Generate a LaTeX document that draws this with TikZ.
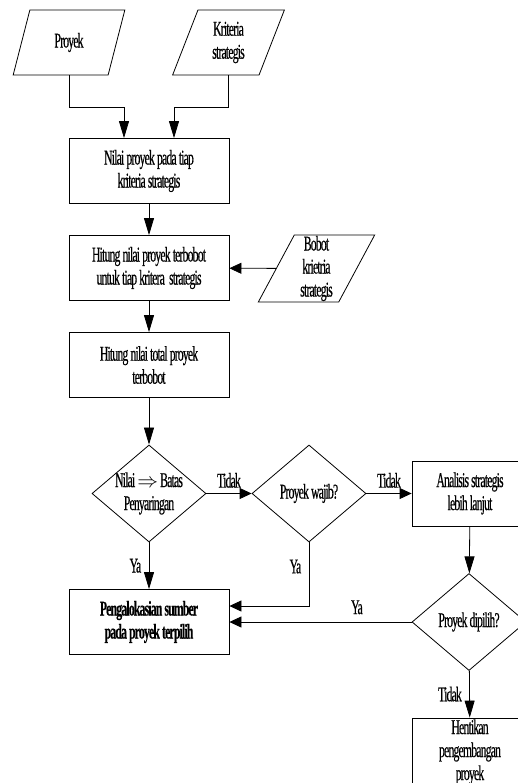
\documentclass[tikz,border=0pt]{standalone}
\usepackage{fontspec}
\setmainfont{Liberation Serif}[FakeStretch=0.56, LetterSpace=-4, FakeBold=0.4]
\usetikzlibrary{arrows.meta,shapes.geometric}

\tikzset{
  teks/.style={font=\fontsize{21}{23}\selectfont},
  proses/.style={draw, teks, align=center, inner sep=0pt, minimum width=160, minimum height=65},
  data/.style={draw, teks, align=center, inner sep=0pt, trapezium, trapezium stretches=true,
    trapezium left angle=72, trapezium right angle=108, minimum width=112, minimum height=65},
  keputusan/.style={draw, teks, align=center, diamond, inner sep=-7pt, minimum width=114, minimum height=97},
  panahv/.style={-{Triangle[length=17pt,width=10pt]}},
  panahh/.style={-{Triangle[length=12pt,width=11pt]}}
}

\begin{document}
\begin{tikzpicture}[x=1pt, y=-1pt, line width=0.8pt]
	\useasboundingbox (0,0) rectangle (518,783);
	% masukan
	\node[data] (proyek) at (69,42.5) {Proyek};
	\node[data] (kriteria) at (228.5,42.5) {Kriteria\\strategis};
	\node[data, trapezium left angle=68, trapezium right angle=112, minimum width=117, minimum height=67] (bobot) at (316.5,268.5) {Bobot\\krietria\\strategis};
	% proses utama
	\node[proses] (nilai) at (149,171) {Nilai proyek pada tiap\\kriteria strategis};
	\node[proses] (hitung) at (149,268) {Hitung nilai proyek terbobot\\untuk tiap kritera\ \ strategis};
	\node[proses] (total) at (149,365) {Hitung nilai total proyek\\terbobot};
	\node[keputusan] (batas) at (149,493.5) {Nilai $\Rightarrow$ Batas\\Penyaringan};
	\node[keputusan] (wajib) at (309,493.5) {Proyek wajib?};
	\node[proses, minimum width=116] (analisis) at (470,493.5) {Analisis strategis\\lebih lanjut};
	\node[keputusan] (dipilih) at (469,622) {Proyek dipilih?};
	\node[proses, font=\fontsize{21}{23}\selectfont\bfseries] (alokasi) at (149,622) {Pengalokasian sumber\\pada proyek terpilih};
	\node[proses, minimum width=116, minimum height=68] (henti) at (470,752) {Hentikan\\pengembangan\\proyek};
	% alur
	\draw[panahv] (proyek.south) -- ++(0,32) -| ([xshift=-25pt]nilai.north);
	\draw[panahv] (kriteria.south) -- ++(0,32) -| ([xshift=25pt]nilai.north);
	\draw[panahv] (nilai) -- (hitung);
	\draw[panahh] (bobot) -- (hitung);
	\draw[panahv] (hitung) -- (total);
	\draw[panahv] (total) -- (batas);
	\draw[panahh] (batas) -- (wajib) node[midway, above, teks, yshift=2pt] {Tidak};
	\draw[panahh] (wajib) -- (analisis) node[midway, above, teks, yshift=2pt] {Tidak};
	\draw[panahv] (batas) -- (alokasi) node[midway, left, teks, xshift=-4pt] {Ya};
	\draw[panahh] (wajib.south) -- ([yshift=16pt]alokasi.east -| wajib.south) node[pos=0.38, left, teks, xshift=-4pt] {Ya} -- ([yshift=16pt]alokasi.east);
	\draw[panahv] (analisis) -- (dipilih);
	\draw[panahh] (dipilih) -- (alokasi) node[pos=0.3, above, teks, yshift=4pt] {Ya};
	\draw[panahv] (dipilih) -- (henti) node[midway, left, teks, xshift=-4pt] {Tidak};
\end{tikzpicture}
\end{document}
